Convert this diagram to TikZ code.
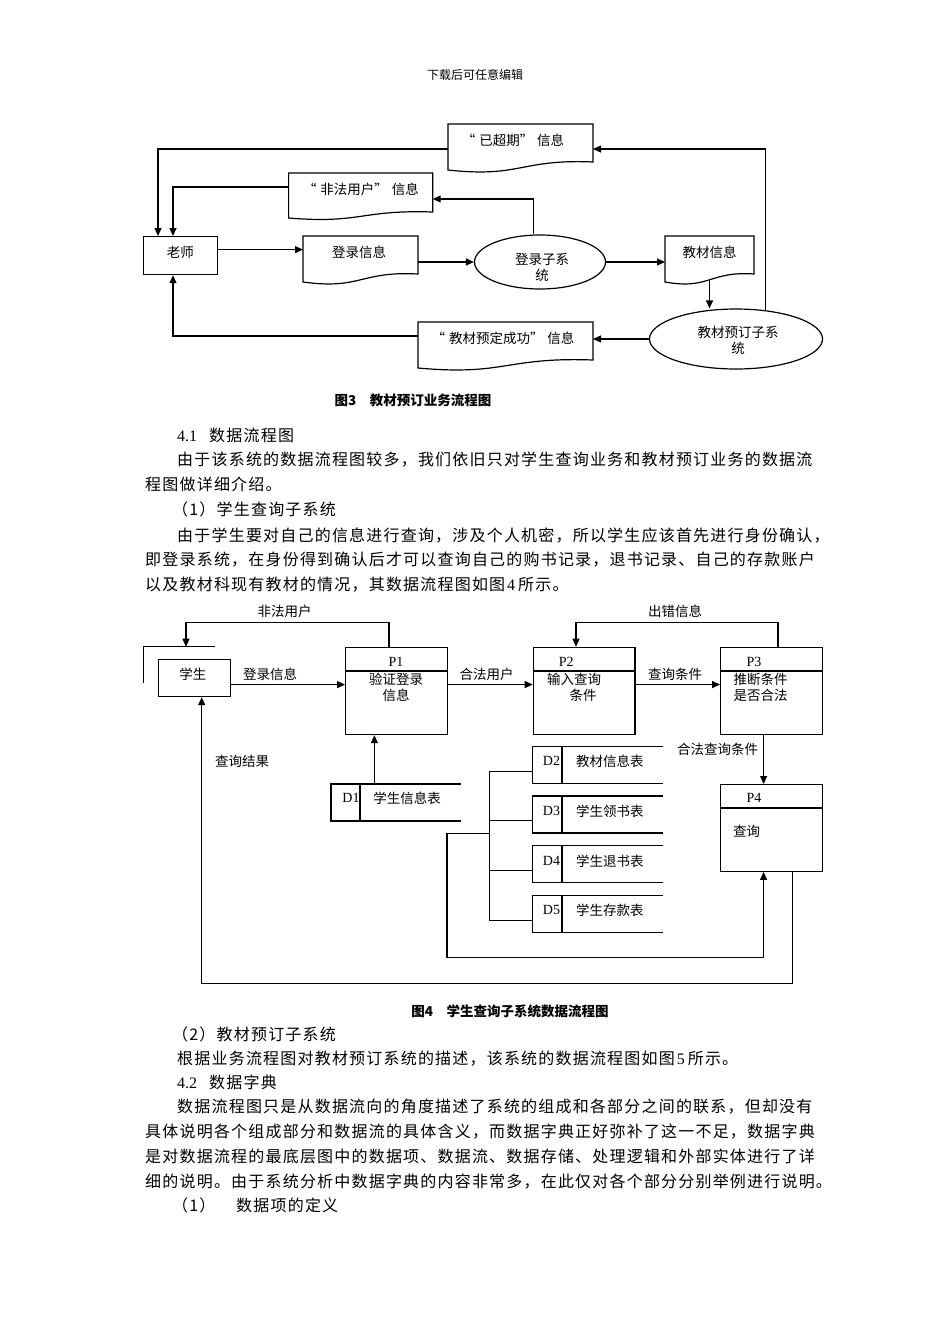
\documentclass[tikz,border=0pt]{standalone}
\usepackage{fontspec}
\setmainfont{Liberation Serif}
\newfontfamily\cjk{Noto Sans CJK SC}
\newfontfamily\cjkbody{Noto Sans CJK SC}[LetterSpace=7.5]
\usetikzlibrary{shapes.geometric,arrows.meta,calc}
\newcommand\latn[1]{{\rmfamily #1}}
\newcommand\myLQ{“\hspace{4pt}}
\newcommand\myRQ{”\hspace{4pt}}
\newcommand\docbox[7]{%
  \node[inner sep=0pt,outer sep=0pt,minimum width={(#4-#2)*1pt},minimum height={(#7-#3)*1pt},anchor=north west] (#1) at (#2,#3) {};
  \draw[shp] (#2,#5) -- (#2,#3) -- (#4,#3) -- (#4,#5-#6)
    .. controls (#2*0.5+#4*0.5,#5-#6*1.4) and (#2*0.5+#4*0.5,#5+#6*1.0) .. (#2,#5) -- cycle;
}
\newcommand\store[5]{%
  \node[inner sep=0pt,outer sep=0pt,minimum width={(#4-#2)*1pt},minimum height=37pt,anchor=north west] (#1) at (#2,#3) {};
  \draw[shp] (#4,#3) -- (#2,#3) -- (#2,#3+37) -- (#4,#3+37);
  \draw[shp] (#5,#3) -- (#5,#3+37);
}
\tikzset{
  shp/.style={line width=1.2pt,draw=black},
  arr/.style={shp,-{Triangle[length=8pt,width=7pt]}},
  fig/.style={font=\cjk\fontsize{13.5}{16}\selectfont,inner sep=0pt},
  figl/.style={font=\rmfamily\fontsize{14}{16}\selectfont,inner sep=0pt},
  captxt/.style={font=\cjk\bfseries\fontsize{13.5}{16}\selectfont,inner sep=0pt},
  hdr/.style={font=\cjk\fontsize{12}{14}\selectfont,inner sep=0pt},
  body/.style={font=\cjkbody\fontsize{16}{20}\selectfont,inner sep=0pt,anchor=west,text height=14pt,text depth=2pt},
  proc/.style={shp,minimum width=101.6pt,minimum height=87.3pt,anchor=north west,inner sep=0pt},
}
\begin{document}
\begin{tikzpicture}[x=1pt,y=-1pt]
\useasboundingbox (0,0) rectangle (950,1344);
\fill[white] (0,0) rectangle (950,1344);
\node[hdr] (hdr) at (475,75) {下载后可任意编辑};

% ---------------- Figure 3
\docbox{ycq}{448}{124}{593}{170}{8}{174}
\node[fig] (ycqt) at (513,140) {\myLQ 已超期\myRQ 信息};
\docbox{ffyh}{288.6}{173}{432.7}{218}{6}{201}
\node[fig] (ffyht) at (361,189) {\myLQ 非法用户\myRQ 信息};
\node[shp,minimum width=74pt,minimum height=38pt,anchor=north west,inner sep=0pt] (ls) at (142.6,236) {};
\node[fig] (lst) at (180.4,252) {老师};
\docbox{dlxx}{303}{236}{418}{282}{8}{262}
\node[fig] (dlxxt) at (359,252) {登录信息};
\node[shp,ellipse,minimum width=131pt,minimum height=54pt,inner sep=0pt] (dlzxt) at (540,262) {};
\node[fig,align=center] (dlzxtt) at (542,267) {登录子系\\统};
\docbox{jcxx}{665}{236}{754}{282}{8}{280}
\node[fig] (jcxxt) at (709.7,252) {教材信息};
\node[shp,ellipse,minimum width=173pt,minimum height=60pt,inner sep=0pt] (jcyd) at (736,339) {};
\node[fig,align=center] (jcydt) at (738,340.5) {教材预订子系\\统};
\docbox{cg}{418}{322}{593}{368}{8}{350}
\node[fig] (cgt) at (503,338) {\myLQ 教材预定成功\myRQ 信息};

\draw[arr] (ycq.west) -| ([xshift=15.4pt]ls.north west);
\draw[arr] (ffyh.west) -| ([xshift=30.4pt]ls.north west);
\draw[arr] ([xshift=-6.5pt]dlzxt.north) |- ([yshift=-12pt]ffyh.east);
\draw[arr] ([yshift=6pt]ls.east) -- ([yshift=6pt]ls.east -| dlxx.west);
\draw[arr] (dlxx.south east) -- (dlzxt.west);
\draw[arr] (dlzxt.east) -- (dlzxt.east -| jcxx.west);
\draw[arr] (jcxx.south) -- (jcxx.south |- jcyd.north);
\draw[arr] (jcyd.west) -- (jcyd.west -| cg.east);
\draw[arr] (cg.west) -| ([xshift=30.4pt]ls.south west);
\draw[arr] (jcyd.44) |- (ycq.east);

\node[captxt] (cap3) at (413,400) {图3\quad 教材预订业务流程图};

% ---------------- body text 1
\node[body] (t1a) at (177,435) {\latn{4.1}};
\node[body] (t1b) at (209,435) {数据流程图};
\node[body] (t2) at (177,459.5) {由于该系统的数据流程图较多，我们依旧只对学生查询业务和教材预订业务的数据流};
\node[body] (t3) at (145,484) {程图做详细介绍。};
\node[body] (t4) at (172,509.3) {（1）学生查询子系统};
\node[body] (t5) at (177,535) {由于学生要对自己的信息进行查询，涉及个人机密，所以学生应该首先进行身份确认，};
\node[body] (t6) at (145,559.5) {即登录系统，在身份得到确认后才可以查询自己的购书记录，退书记录、自己的存款账户};
\node[body] (t7) at (145,584) {以及教材科现有教材的情况，其数据流程图如图\hspace{2pt}\latn{4}\hspace{3pt}所示。};

% ---------------- Figure 4
\draw[shp] (143.5,683) -- (143.5,646.7) -- (215,646.7);
\coordinate (entA) at (186,646.7);
\node[shp,minimum width=71.8pt,minimum height=37pt,anchor=north west,inner sep=0pt] (xs) at (157.8,659) {};
\node[fig] (xst) at (192.8,674) {学生};

\node[proc] (p1) at (345,646.7) {};
\node[proc] (p2) at (532.7,646.7) {};
\node[proc] (p3) at (720,646.7) {};
\node[proc,minimum height=86.7pt] (p4) at (720,784) {};
\draw[shp] ([yshift=-24.3pt]p1.north west) -- ([yshift=-24.3pt]p1.north east);
\draw[shp] ([yshift=-24.3pt]p2.north west) -- ([yshift=-24.3pt]p2.north east);
\draw[shp] ([yshift=-24.3pt]p3.north west) -- ([yshift=-24.3pt]p3.north east);
\draw[shp] ([yshift=-24pt]p4.north west) -- ([yshift=-24pt]p4.north east);
\node[figl] (p1l) at (396,661.7) {P1};
\node[fig,align=center] (p1t) at (396,687) {验证登录\\信息};
\node[figl] (p2l) at (566.3,661.7) {P2};
\node[fig] (p2t) at (574,679) {输入查询};
\node[fig] (p2u) at (583,695) {条件};
\node[figl] (p3l) at (754,661.7) {P3};
\node[fig,align=center] (p3t) at (760.5,687) {推断条件\\是否合法};
\node[figl] (p4l) at (754,797.7) {P4};
\node[fig] (p4t) at (746.6,831.7) {查询};

\draw[arr] ([yshift=-6.5pt]xs.east) -- ([yshift=-6.5pt]xs.east -| p1.west);
\node[fig] (l1) at (270,674) {登录信息};
\draw[arr] ([yshift=6.4pt]p1.east) -- ([yshift=6.4pt]p2.west);
\node[fig] (l2) at (486.5,674) {合法用户};
\draw[arr] ([yshift=6.4pt]p2.east) -- ([yshift=6.4pt]p3.west);
\node[fig] (l3) at (675,674) {查询条件};
\draw[arr] ([xshift=44pt]p1.north west) -- ++(0,-24.4) -| (entA);
\node[fig] (l4) at (284.7,611) {非法用户};
\draw[arr] ([xshift=58pt]p3.north west) -- ++(0,-24.4) -| ([xshift=43.3pt]p2.north west);
\node[fig] (l5) at (675,611) {出错信息};
\draw[arr] ([xshift=43.6pt]p3.south west) -- ([xshift=43.6pt]p4.north west);
\node[fig] (l6) at (717.6,749) {合法查询条件};

\store{d1}{331}{784}{461}{360}
\node[figl] (d1l) at (351,798) {D1};
\node[fig] (d1t) at (407,798) {学生信息表};
\draw[arr] ([xshift=43.4pt]d1.north west) -- ([xshift=43.4pt]d1.north west |- p1.south);
\store{d2}{532.7}{746.7}{662.7}{562}
\store{d3}{532.7}{796}{662.7}{562}
\store{d4}{532.7}{845.7}{662.7}{562}
\store{d5}{532.7}{895.7}{662.7}{562}
\node[figl] (d2l) at (551.5,761) {D2};
\node[fig] (d2t) at (609.8,761) {教材信息表};
\node[figl] (d3l) at (551.5,811) {D3};
\node[fig] (d3t) at (609.8,811) {学生领书表};
\node[figl] (d4l) at (551.5,861) {D4};
\node[fig] (d4t) at (609.8,861) {学生退书表};
\node[figl] (d5l) at (551.5,910) {D5};
\node[fig] (d5t) at (609.8,910) {学生存款表};

\coordinate (busx) at (489.6,0);
\draw[shp] ([yshift=-24.5pt]d2.north west) -- ([yshift=-24.5pt]d2.north west -| busx) -- ([yshift=-24.5pt]d5.north west -| busx) -- ([yshift=-24.5pt]d5.north west);
\draw[shp] ([yshift=-24.5pt]d3.north west) -- ([yshift=-24.5pt]d3.north west -| busx);
\draw[shp] ([yshift=-24.5pt]d4.north west) -- ([yshift=-24.5pt]d4.north west -| busx);
\coordinate (tap) at (489.6,833.3);
\coordinate (loopL) at (447,957.7);
\draw[arr] (tap) -| (loopL) -| ([xshift=43.6pt]p4.south west);
\coordinate (retY) at (0,983.3);
\coordinate (xsb) at ([xshift=43.9pt]xs.south west);
\draw[arr] ([xshift=72.8pt]p4.south west) |- (retY -| xsb) -- (xsb);
\node[fig] (l7) at (242,761.7) {查询结果};

\node[captxt] (cap4) at (510,1011) {图4\quad 学生查询子系统数据流程图};

% ---------------- body text 2
\node[body] (s1) at (172,1034.3) {（2）教材预订子系统};
\node[body] (s2) at (177,1058) {根据业务流程图对教材预订系统的描述，该系统的数据流程图如图\hspace{2pt}\latn{5}\hspace{3pt}所示。};
\node[body] (s3a) at (177,1082) {\latn{4.2}};
\node[body] (s3b) at (209,1082) {数据字典};
\node[body] (s4) at (177,1106.7) {数据流程图只是从数据流向的角度描述了系统的组成和各部分之间的联系，但却没有};
\node[body] (s5) at (145,1131.5) {具体说明各个组成部分和数据流的具体含义，而数据字典正好弥补了这一不足，数据字典};
\node[body] (s6) at (145,1156.5) {是对数据流程的最底层图中的数据项、数据流、数据存储、处理逻辑和外部实体进行了详};
\node[body] (s7) at (145,1181.5) {细的说明。由于系统分析中数据字典的内容非常多，在此仅对各个部分分别举例进行说明。};
\node[body] (s8a) at (172,1205) {（1）};
\node[body] (s8b) at (236,1205) {数据项的定义};
\end{tikzpicture}
\end{document}
